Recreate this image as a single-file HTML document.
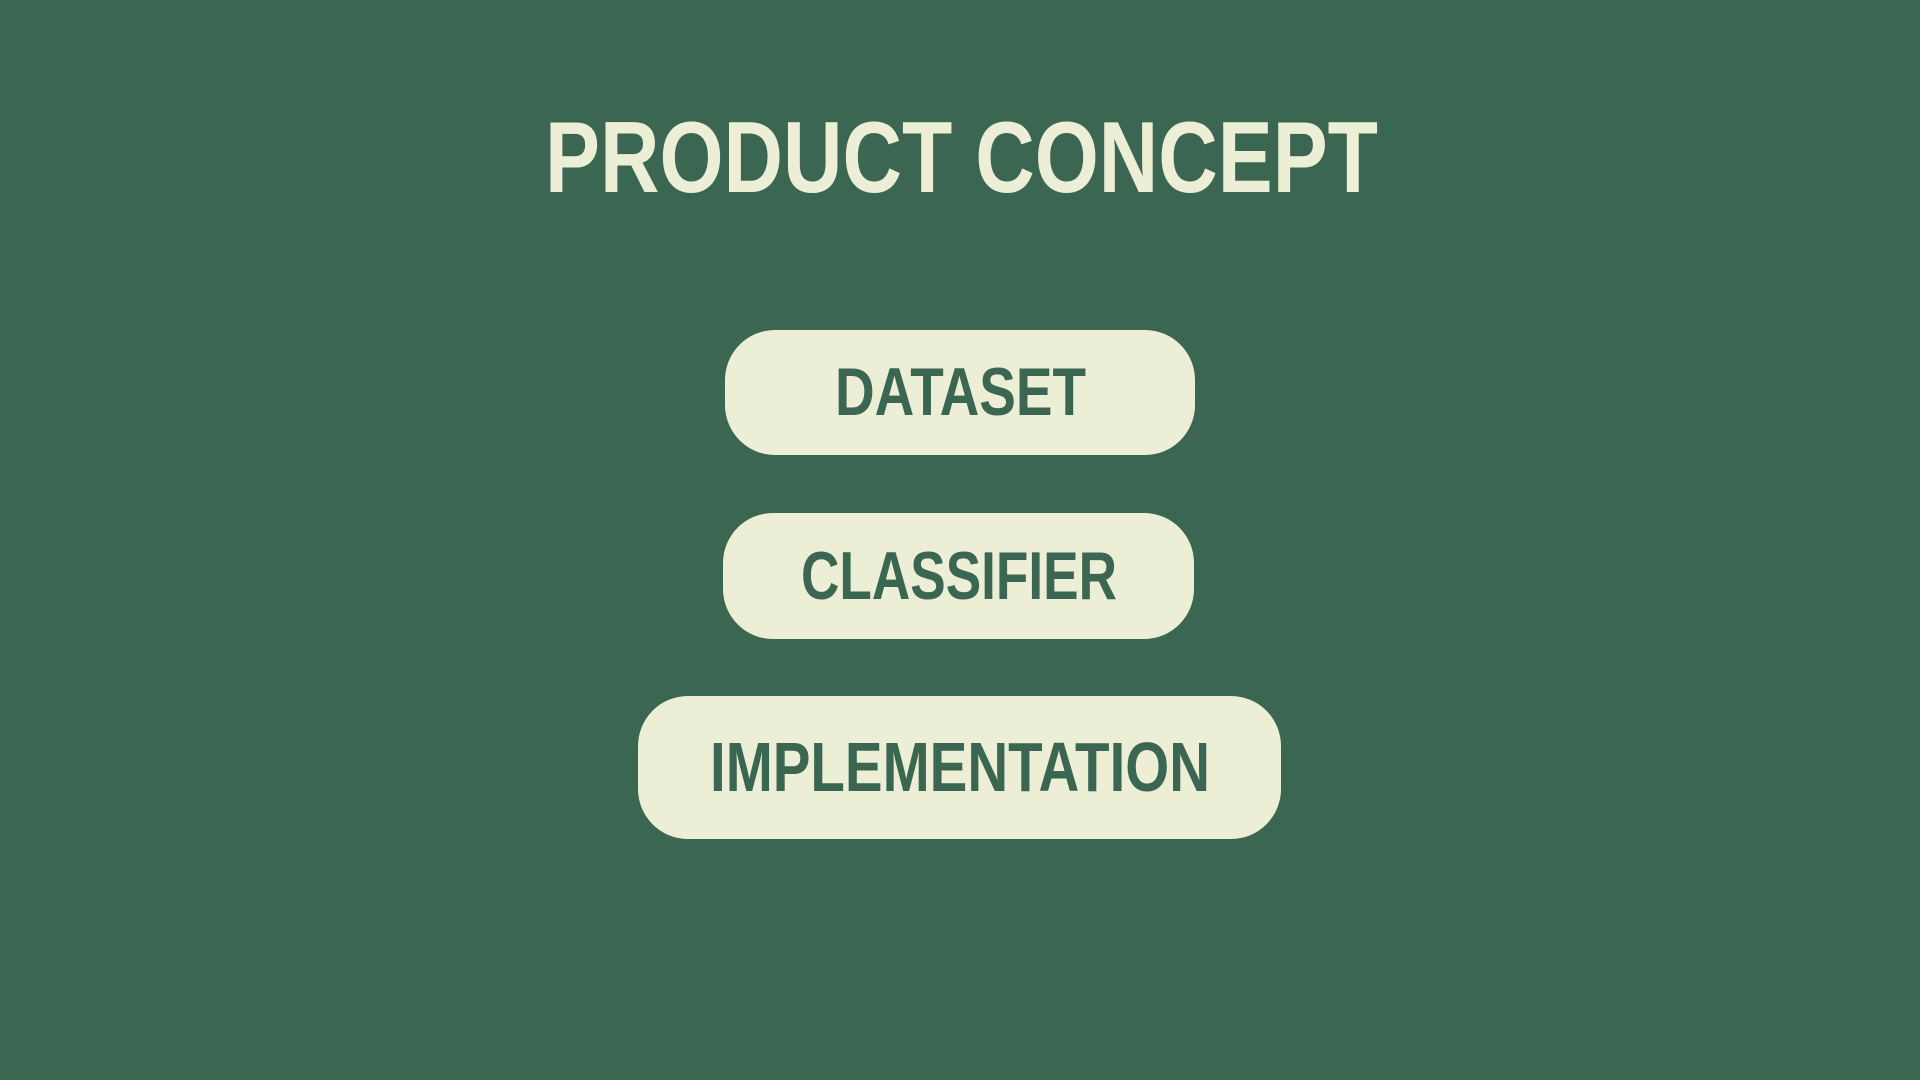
<!DOCTYPE html>
<html><head><meta charset="utf-8"><style>
html,body{margin:0;padding:0;background:#3b6651;}
svg{display:block;}
</style></head><body>
<svg width="1920" height="1080" viewBox="0 0 1920 1080" xmlns="http://www.w3.org/2000/svg">
<rect width="1920" height="1080" fill="#3b6651"/>
<text x="545" y="192" textLength="833" lengthAdjust="spacingAndGlyphs" font-family="Liberation Sans, sans-serif" font-weight="bold" font-size="101" fill="#ecefd5">PRODUCT CONCEPT</text>
<rect x="725" y="330" width="470" height="125" rx="50" fill="#ecefd5"/>
<text x="835" y="415" textLength="251" lengthAdjust="spacingAndGlyphs" font-family="Liberation Sans, sans-serif" font-weight="bold" font-size="68" fill="#3b6651">DATASET</text>
<rect x="723" y="513" width="471" height="126" rx="50" fill="#ecefd5"/>
<text x="801" y="599" textLength="316" lengthAdjust="spacingAndGlyphs" font-family="Liberation Sans, sans-serif" font-weight="bold" font-size="68" fill="#3b6651">CLASSIFIER</text>
<rect x="638" y="696" width="643" height="143" rx="50" fill="#ecefd5"/>
<text x="710" y="791" textLength="500" lengthAdjust="spacingAndGlyphs" font-family="Liberation Sans, sans-serif" font-weight="bold" font-size="70" fill="#3b6651">IMPLEMENTATION</text>
</svg>
</body></html>
